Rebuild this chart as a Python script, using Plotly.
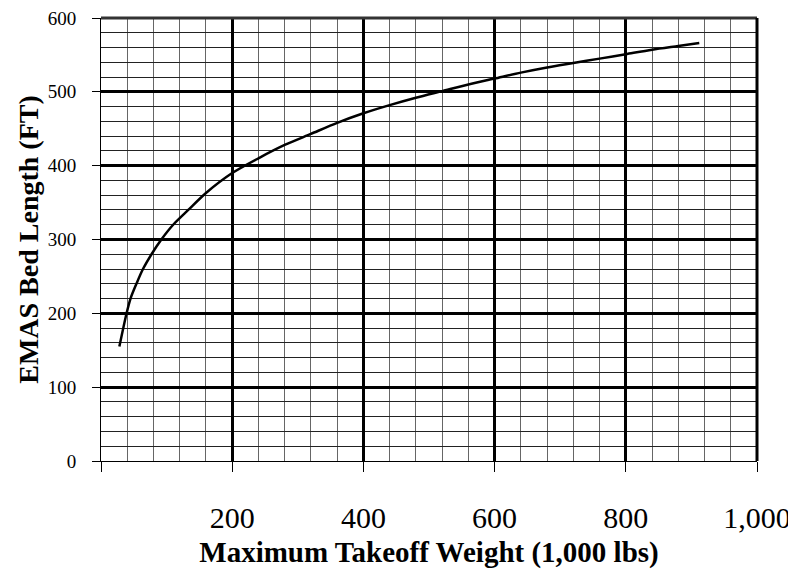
"""EMAS bed length versus maximum takeoff weight."""

import plotly.graph_objects as go

# Curve (x in 1,000 lbs, y in ft)
takeoff_weight = [28, 39, 45, 54, 64, 77, 92, 110, 133, 160, 200, 240, 280, 320,
                  360, 400, 440, 480, 520, 560, 600, 640, 680, 720, 760, 800,
                  840, 880, 912]
bed_length = [155, 200, 220, 240, 260, 280, 300, 320, 340, 363, 390, 410, 428,
              443, 458, 471, 482, 492, 501, 510, 518, 526, 533, 539, 545, 551,
              557, 562, 566]

x_tickvals = [0, 200, 400, 600, 800, 1000]
x_ticktext = ["", "200", "400", "600", "800", "1,000"]
y_tickvals = [0, 100, 200, 300, 400, 500, 600]

FONT = "Liberation Serif"

fig = go.Figure()
fig.add_trace(
    go.Scatter(
        x=takeoff_weight,
        y=bed_length,
        mode="lines",
        line=dict(color="black", width=2.5, shape="spline", smoothing=0.8),
        showlegend=False,
    )
)

# the page body adds an 8px offset, so the figure is 8px smaller than the window
fig.update_layout(
    width=788,
    height=568,
    margin=dict(l=93, r=39, t=10, b=115),
    paper_bgcolor="white",
    plot_bgcolor="white",
    font=dict(family=FONT, color="black"),
)

fig.update_xaxes(
    range=[0, 1000],
    automargin=False,
    tickvals=x_tickvals,
    ticktext=x_ticktext,
    ticks="outside",
    ticklen=10,
    tickcolor="black",
    tickwidth=1,
    ticklabelstandoff=20,
    ticklabeloverflow="allow",
    tickfont=dict(size=30, family=FONT),
    showline=True,
    linecolor="black",
    linewidth=1,
    showgrid=True,
    gridcolor="black",
    gridwidth=3,
    zeroline=False,
    minor=dict(dtick=40, showgrid=True, gridcolor="#666666", gridwidth=1),
    title=dict(
        text="<b>Maximum Takeoff Weight (1,000 lbs)</b>",
        font=dict(size=29, family=FONT),
        standoff=8,
    ),
)

fig.update_yaxes(
    range=[0, 600],
    automargin=False,
    tickvals=y_tickvals,
    ticks="outside",
    ticklen=8,
    tickcolor="black",
    tickwidth=1,
    ticklabelstandoff=12,
    ticklabeloverflow="allow",
    tickfont=dict(size=19, family=FONT),
    showline=True,
    linecolor="black",
    linewidth=1,
    showgrid=True,
    gridcolor="black",
    gridwidth=3,
    zeroline=False,
    minor=dict(dtick=20, showgrid=True, gridcolor="#222222", gridwidth=1),
    title=dict(
        text="<b>EMAS Bed Length (FT)</b>",
        font=dict(size=28, family=FONT),
        standoff=0,
    ),
)

# heavier frame on top and right
fig.add_shape(type="line", xref="paper", yref="paper", x0=0, x1=1, y0=1, y1=1,
              line=dict(color="#333333", width=3))
fig.add_shape(type="line", xref="paper", yref="paper", x0=1, x1=1, y0=0, y1=1,
              line=dict(color="black", width=3))

fig.write_html("out.html")
